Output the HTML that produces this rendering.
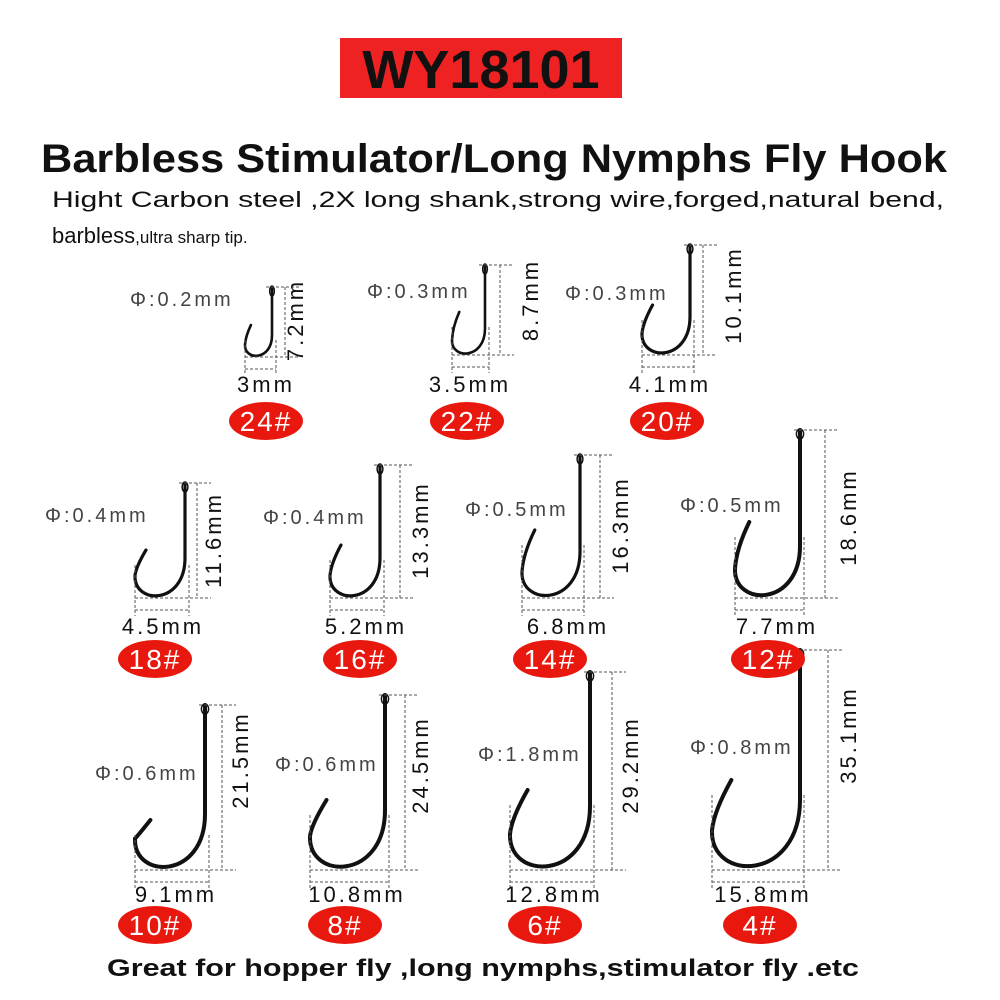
<!DOCTYPE html>
<html><head><meta charset="utf-8">
<style>
html,body{margin:0;padding:0;background:#fff;}
body{width:1000px;height:1000px;position:relative;overflow:hidden;font-family:"Liberation Sans",sans-serif;}
svg{position:absolute;left:0;top:0;}
.phi{font-size:20px;fill:#444;letter-spacing:3px;}
.dim{font-size:22px;fill:#111;letter-spacing:3px;}
.bd{font-size:28px;fill:#fff;letter-spacing:2px;}
</style></head><body>
<svg id="s" width="1000" height="1000" viewBox="0 0 1000 1000">
<rect x="340" y="38" width="282" height="60" fill="#ee2222"/>
<text x="481" y="88" text-anchor="middle" font-size="54" font-weight="bold" fill="#111">WY18101</text>
<text x="494" y="172" text-anchor="middle" font-size="40" font-weight="bold" fill="#111" textLength="906" lengthAdjust="spacingAndGlyphs">Barbless Stimulator/Long Nymphs Fly Hook</text>
<text x="52" y="207" font-size="22" fill="#111" textLength="892" lengthAdjust="spacingAndGlyphs">Hight Carbon steel ,2X long shank,strong wire,forged,natural bend,</text>
<text x="52" y="243" font-size="22" fill="#111">barbless<tspan font-size="17">,ultra sharp tip.</tspan></text>
<text x="483" y="976" text-anchor="middle" font-size="24" font-weight="bold" fill="#111" textLength="752" lengthAdjust="spacingAndGlyphs">Great for hopper fly ,long nymphs,stimulator fly .etc</text>

<g id="hooks"></g>

<text class="phi" x="130" y="306">Φ:0.2mm</text>
<text class="phi" x="367" y="298">Φ:0.3mm</text>
<text class="phi" x="565" y="300">Φ:0.3mm</text>
<text class="phi" x="45" y="522">Φ:0.4mm</text>
<text class="phi" x="263" y="524">Φ:0.4mm</text>
<text class="phi" x="465" y="516">Φ:0.5mm</text>
<text class="phi" x="680" y="512">Φ:0.5mm</text>
<text class="phi" x="95" y="780">Φ:0.6mm</text>
<text class="phi" x="275" y="771">Φ:0.6mm</text>
<text class="phi" x="478" y="761">Φ:1.8mm</text>
<text class="phi" x="690" y="754">Φ:0.8mm</text>

<text class="dim" transform="translate(303,320) rotate(-90)" text-anchor="middle">7.2mm</text>
<text class="dim" transform="translate(538,300) rotate(-90)" text-anchor="middle">8.7mm</text>
<text class="dim" transform="translate(741,295) rotate(-90)" text-anchor="middle">10.1mm</text>
<text class="dim" transform="translate(221,540) rotate(-90)" text-anchor="middle">11.6mm</text>
<text class="dim" transform="translate(428,530) rotate(-90)" text-anchor="middle">13.3mm</text>
<text class="dim" transform="translate(628,525) rotate(-90)" text-anchor="middle">16.3mm</text>
<text class="dim" transform="translate(856,517) rotate(-90)" text-anchor="middle">18.6mm</text>
<text class="dim" transform="translate(248,760) rotate(-90)" text-anchor="middle">21.5mm</text>
<text class="dim" transform="translate(428,765) rotate(-90)" text-anchor="middle">24.5mm</text>
<text class="dim" transform="translate(638,765) rotate(-90)" text-anchor="middle">29.2mm</text>
<text class="dim" transform="translate(856,735) rotate(-90)" text-anchor="middle">35.1mm</text>

<text class="dim" x="266" y="392" text-anchor="middle">3mm</text>
<text class="dim" x="470" y="392" text-anchor="middle">3.5mm</text>
<text class="dim" x="670" y="392" text-anchor="middle">4.1mm</text>
<text class="dim" x="163" y="634" text-anchor="middle">4.5mm</text>
<text class="dim" x="366" y="634" text-anchor="middle">5.2mm</text>
<text class="dim" x="568" y="634" text-anchor="middle">6.8mm</text>
<text class="dim" x="777" y="634" text-anchor="middle">7.7mm</text>
<text class="dim" x="176" y="902" text-anchor="middle">9.1mm</text>
<text class="dim" x="357" y="902" text-anchor="middle">10.8mm</text>
<text class="dim" x="554" y="902" text-anchor="middle">12.8mm</text>
<text class="dim" x="763" y="902" text-anchor="middle">15.8mm</text>

<g id="badges"></g>
<text class="bd" x="266" y="431" text-anchor="middle">24#</text>
<text class="bd" x="467" y="431" text-anchor="middle">22#</text>
<text class="bd" x="667" y="431" text-anchor="middle">20#</text>
<text class="bd" x="155" y="669" text-anchor="middle">18#</text>
<text class="bd" x="360" y="669" text-anchor="middle">16#</text>
<text class="bd" x="550" y="669" text-anchor="middle">14#</text>
<text class="bd" x="768" y="669" text-anchor="middle">12#</text>
<text class="bd" x="155" y="935" text-anchor="middle">10#</text>
<text class="bd" x="345" y="935" text-anchor="middle">8#</text>
<text class="bd" x="545" y="935" text-anchor="middle">6#</text>
<text class="bd" x="760" y="935" text-anchor="middle">4#</text>
</svg>
<script>
var NS="http://www.w3.org/2000/svg";
var H=[[272,287,357,245,325,285],[485,265,355,452,312,500],[690,245,355,642,305,703],
[185,483,598,135,550,197],[380,465,598,330,545,400],[580,455,598,522,530,600],[800,430,598,735,522,825],
[205,705,870,135,820,222],[385,695,870,310,800,405],[590,672,870,510,790,612],[800,650,870,712,780,828]];
var B=[[266,421],[467,421],[667,421],[155,659],[360,659],[550,659],[768,659],[155,925],[345,925],[545,925],[760,925]];
var g=document.getElementById('hooks'),bg=document.getElementById('badges');
function el(t,a,p){var e=document.createElementNS(NS,t);for(var k in a)e.setAttribute(k,a[k]);p.appendChild(e);return e;}
function line(x1,y1,x2,y2){el('line',{x1:x1,y1:y1,x2:x2,y2:y2,stroke:'#555','stroke-width':1,'stroke-dasharray':'3,2'},g);}
H.forEach(function(h){
var sx=h[0],ty=h[1],by=h[2],lx=h[3],py=h[4],dx=h[5],w=sx-lx;
var sw=w>60?4:(w>40?3.2:2.6);
var d="M"+sx+","+ty+" L"+sx+","+(by-0.8*w)+" C"+sx+","+(by+0.14*w)+" "+(lx-0.02*w)+","+(by+0.14*w)+" "+lx+","+(by-0.45*w)+
" Q"+(lx+0.02*w)+","+(py+0.35*(by-py))+" "+(lx+0.22*w)+","+py;
el('path',{d:d,fill:'none',stroke:'#111','stroke-width':sw,'stroke-linecap':'round'},g);
el('ellipse',{cx:sx,cy:ty+4,rx:sw*0.9,ry:5,fill:'none',stroke:'#111','stroke-width':1.5},g);
line(dx,ty,dx,by);line(sx-6,ty,dx+14,ty);line(lx,by,dx+14,by);
line(lx,py+15,lx,by+18);line(sx+4,py+15,sx+4,by+18);line(lx,by+12,sx+4,by+12);
});
B.forEach(function(b){el('ellipse',{cx:b[0],cy:b[1],rx:37,ry:19,fill:'#e8180f'},bg);});
</script>
</body></html>
